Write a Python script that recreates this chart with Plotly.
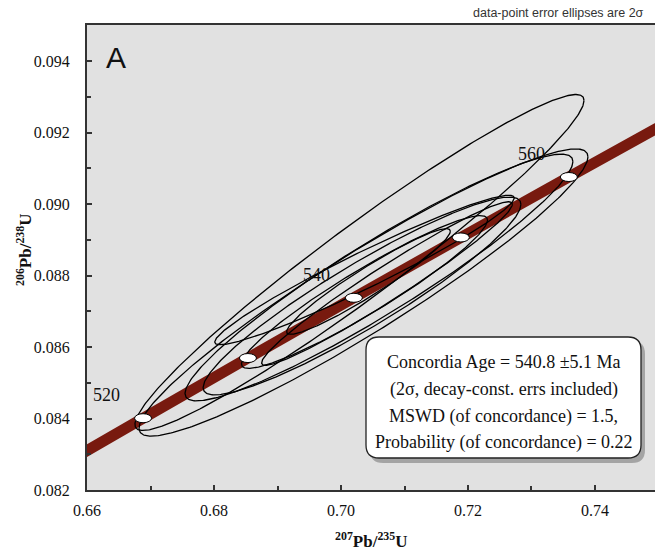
import numpy as np
import plotly.graph_objects as go

# Concordia curve (Ma, 207Pb/235U, 206Pb/238U)
conc_age = [500, 510, 520, 530, 540, 550, 560, 570]
conc_x = [0.636279, 0.652474, 0.668829, 0.685345, 0.702026, 0.718872, 0.735883, 0.753066]
conc_y = [0.080650, 0.082327, 0.084008, 0.085691, 0.087376, 0.089064, 0.090755, 0.092448]

# Age markers on concordia
mark_age = [520, 530, 540, 550, 560]
mark_x = [0.668829, 0.685345, 0.702026, 0.718872, 0.735883]
mark_y = [0.084008, 0.085691, 0.087376, 0.089064, 0.090755]
label_age = ["520", "540", "560"]
label_x = [0.668829, 0.702026, 0.735883]
label_y = [0.084008, 0.087376, 0.090755]

# Data-point error ellipses (2 sigma)
ell_x = [0.70291, 0.70354, 0.70598, 0.70331, 0.70370, 0.70370, 0.70724, 0.70433]
ell_y = [0.088364, 0.087524, 0.087944, 0.087427, 0.088154, 0.087538, 0.087776, 0.087832]
ell_sx = [0.03536, 0.03535, 0.03054, 0.02502, 0.02358, 0.01937, 0.01974, 0.01289]
ell_sy = [0.004699, 0.004016, 0.003451, 0.002766, 0.002091, 0.002137, 0.002287, 0.001478]
ell_rho = [0.9643, 0.9448, 0.9397, 0.9264, 0.9632, 0.9419, 0.9694, 0.9514]

x_ticks = [0.66, 0.68, 0.70, 0.72, 0.74]
y_ticks = [0.082, 0.084, 0.086, 0.088, 0.090, 0.092, 0.094]

box_lines = ["Concordia Age = 540.8 \u00b15.1 Ma",
             "(2\u03c3, decay-const. errs included)",
             "MSWD (of concordance) = 1.5,",
             "Probability (of concordance) = 0.22"]

fig = go.Figure()

fig.add_trace(go.Scatter(x=conc_x, y=conc_y, mode="lines",
                         line=dict(color="#781a0f", width=11, shape="spline"),
                         hoverinfo="skip", showlegend=False))

t = np.linspace(0, 2 * np.pi, 400)
for cx, cy, sx, sy, r in zip(ell_x, ell_y, ell_sx, ell_sy, ell_rho):
    ex = cx + sx * np.cos(t)
    ey = cy + sy * (r * np.cos(t) + np.sqrt(1 - r * r) * np.sin(t))
    fig.add_trace(go.Scatter(x=ex, y=ey, mode="lines",
                             line=dict(color="black", width=1.3),
                             hoverinfo="skip", showlegend=False))

shapes = []
for mx, my in zip(mark_x, mark_y):
    shapes.append(dict(type="circle", xref="x", yref="y", xsizemode="pixel", ysizemode="pixel",
                       xanchor=mx, yanchor=my, x0=-8.5, x1=8.5, y0=-4.5, y1=4.5,
                       fillcolor="white", line=dict(color="black", width=1), layer="above"))

# plot area: 568 x 465 px, left edge at 87 px, bottom at 490 px
W, H = 568.0, 465.0
def px2paper(px, py):
    return (px - 87) / W, (490 - py) / H

def rounded(x0, y0, x1, y1, r):
    ax0, ay0 = px2paper(x0, y0)
    ax1, ay1 = px2paper(x1, y1)
    rx, ry = r / W, r / H
    return (f"M {ax0+rx},{ay0} L {ax1-rx},{ay0} Q {ax1},{ay0} {ax1},{ay0-ry} "
            f"L {ax1},{ay1+ry} Q {ax1},{ay1} {ax1-rx},{ay1} L {ax0+rx},{ay1} "
            f"Q {ax0},{ay1} {ax0},{ay1+ry} L {ax0},{ay0-ry} Q {ax0},{ay0} {ax0+rx},{ay0} Z")

shapes.append(dict(type="path", xref="paper", yref="paper", path=rounded(370, 341, 645, 463, 13),
                   fillcolor="rgba(90,90,90,0.45)", line=dict(width=0), layer="above"))
shapes.append(dict(type="path", xref="paper", yref="paper", path=rounded(366, 337, 641, 458, 13),
                   fillcolor="white", line=dict(color="#222", width=1.3), layer="above"))

annotations = []
bx, _ = px2paper(503.5, 0)
for i, s in enumerate(box_lines):
    _, by = px2paper(0, [362, 389, 416, 442][i])
    annotations.append(dict(x=bx, y=by, xref="paper", yref="paper", text=s, showarrow=False,
                            font=dict(family="Liberation Serif", size=18, color="#111"),
                            xanchor="center", yanchor="middle"))

for lab, lx, ly in zip(label_age, label_x, label_y):
    annotations.append(dict(x=lx, y=ly, xref="x", yref="y", text=lab, showarrow=False,
                            xshift=-37, yshift=23,
                            font=dict(family="Liberation Serif", size=18, color="#111")))

ax_, ay_ = px2paper(104, 39)
annotations.append(dict(x=ax_, y=ay_, xref="paper", yref="paper", text="A", showarrow=False,
                        xanchor="left", yanchor="top",
                        font=dict(family="Liberation Sans", size=30, color="#111")))
tx_, ty_ = px2paper(646, 13)
annotations.append(dict(x=tx_, y=ty_, xref="paper", yref="paper",
                        text="data-point error ellipses are 2\u03c3", showarrow=False,
                        xanchor="right", yanchor="middle",
                        font=dict(family="Liberation Sans", size=12.5, color="#333")))
yx_, yy_ = px2paper(24, 250)
annotations.append(dict(x=yx_, y=yy_, xref="paper", yref="paper", textangle=-90,
                        text="<b><sup>206</sup>Pb/<sup>238</sup>U</b>", showarrow=False,
                        xanchor="center", yanchor="middle",
                        font=dict(family="Liberation Serif", size=17, color="#111")))
xx_, xy_ = px2paper(371, 540)
annotations.append(dict(x=xx_, y=xy_, xref="paper", yref="paper",
                        text="<b><sup>207</sup>Pb/<sup>235</sup>U</b>", showarrow=False,
                        xanchor="center", yanchor="middle",
                        font=dict(family="Liberation Serif", size=17, color="#111")))

fig.update_layout(
    width=655, height=554,
    margin=dict(l=87, r=0, t=25, b=64, autoexpand=False),
    paper_bgcolor="white", plot_bgcolor="#e1e1e1",
    shapes=shapes, annotations=annotations,
    xaxis=dict(range=[0.66, 0.74945], tickvals=x_ticks, ticktext=[f"{v:.2f}" for v in x_ticks],
               ticks="inside", ticklen=5, tickwidth=1.5, tickcolor="#333",
               minor=dict(dtick=0.01, tick0=0.66, ticks="inside", ticklen=4, tickcolor="#333"),
               showline=True, linecolor="#333", linewidth=2, mirror=True,
               showgrid=False, zeroline=False, ticklabelstandoff=5, automargin=False,
               tickfont=dict(family="Liberation Serif", size=16, color="#111")),
    yaxis=dict(range=[0.082, 0.095007], tickvals=y_ticks, ticktext=[f"{v:.3f}" for v in y_ticks],
               ticks="inside", ticklen=5, tickwidth=1.5, tickcolor="#333",
               minor=dict(dtick=0.001, tick0=0.082, ticks="inside", ticklen=4, tickcolor="#333"),
               showline=True, linecolor="#333", linewidth=2,
               showgrid=False, zeroline=False, ticklabelstandoff=12, automargin=False,
               tickfont=dict(family="Liberation Serif", size=16, color="#111")),
)

fig.write_html("out.html", config={"displayModeBar": False},
               post_script="document.body.style.margin='0px';")
